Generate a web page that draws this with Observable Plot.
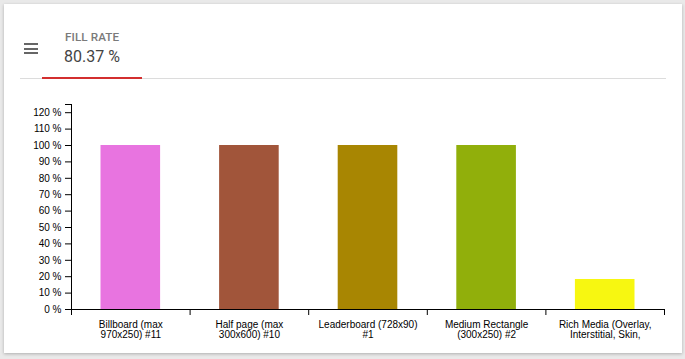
<!DOCTYPE html>
<html>
<head>
<meta charset="utf-8">
<script src="https://cdn.jsdelivr.net/npm/d3@7"></script>
<script src="https://cdn.jsdelivr.net/npm/@observablehq/plot@0.6"></script>
<style>
  html, body { margin: 0; padding: 0; }
  body { width: 685px; height: 359px; background: #e9e9e9; position: relative; overflow: hidden; font-family: Roboto, "Liberation Sans", Arial, sans-serif; }
  #card { position: absolute; left: 4px; top: 4px; width: 678px; height: 349px; background: #fff; box-shadow: 0 1px 3px rgba(0,0,0,0.25); }
  #menu { position: absolute; left: 24px; top: 43px; width: 14px; height: 11px; }
  #menu span { position: absolute; left: 0; width: 14px; height: 2px; background: #666; }
  #title { position: absolute; left: 65px; top: 30px; font-size: 11.7px; font-weight: 500; color: #7a7a7a; letter-spacing: 0.1px; }
  #value { position: absolute; left: 64px; top: 46.5px; font-size: 16px; color: #444; }
  #grayline { position: absolute; left: 20px; top: 78px; width: 646px; height: 1px; background: #dcdcdc; }
  #redline { position: absolute; left: 42px; top: 77px; width: 100px; height: 2px; background: #d32f2f; }
  #chart { position: absolute; left: 0; top: 90px; }
  #chart svg { overflow: hidden; }
</style>
</head>
<body>
<div id="card"></div>
<div id="menu"><span style="top:0"></span><span style="top:4.5px"></span><span style="top:9px"></span></div>
<div id="title">FILL RATE</div>
<div id="value">80.37 %</div>
<div id="grayline"></div>
<div id="redline"></div>
<div id="chart"></div>
<script>
const categories = [
  "Billboard (max\n970x250) #11",
  "Half page (max\n300x600) #10",
  "Leaderboard (728x90)\n#1",
  "Medium Rectangle\n(300x250) #2",
  "Rich Media (Overlay,\nInterstitial, Skin,"
];
const fillRates = [100, 100, 100, 100, 18.3];
const barColors = ["#e874e0", "#a1553a", "#a88602", "#91af0b", "#f7f711"];
const yTickValues = [0, 10, 20, 30, 40, 50, 60, 70, 80, 90, 100, 110, 120];
const yMax = 125;

const data = categories.map((c, i) => ({i, cat: c, value: fillRates[i], color: barColors[i]}));

const chart = Plot.plot({
  width: 685,
  height: 250,
  marginTop: 14,
  marginBottom: 31,
  marginLeft: 71,
  marginRight: 21,
  style: {fontFamily: "'Liberation Sans', Arial, sans-serif", fontSize: "10px", color: "#000", background: "transparent"},
  x: {type: "linear", domain: [0, categories.length]},
  y: {domain: [0, yMax]},
  marks: [
    Plot.rectY(data, {x1: "i", x2: d => d.i + 1, y1: 0, y2: "value", fill: "color", insetLeft: 29.5, insetRight: 29.5}),
    Plot.ruleY([0], {stroke: "#000", strokeWidth: 1}),
    Plot.ruleX([0], {stroke: "#000", strokeWidth: 1}),
    Plot.axisY({ticks: [...yTickValues, yMax], tickFormat: d => d === yMax ? "" : `${d} %`, tickSize: 6, tickPadding: 4, stroke: "#000", strokeOpacity: 1, label: null, fill: "#000"}),
    Plot.axisX({ticks: d3.range(categories.length + 1), tickFormat: () => "", tickSize: 6, stroke: "#000", strokeOpacity: 1, label: null}),
    Plot.axisX({ticks: d3.range(categories.length).map(i => i + 0.5), tickFormat: v => categories[v - 0.5], tickSize: 0, tickPadding: 11.5, label: null, fill: "#000", lineHeight: 1})
  ]
});
document.getElementById("chart").appendChild(chart);
</script>
</body>
</html>
